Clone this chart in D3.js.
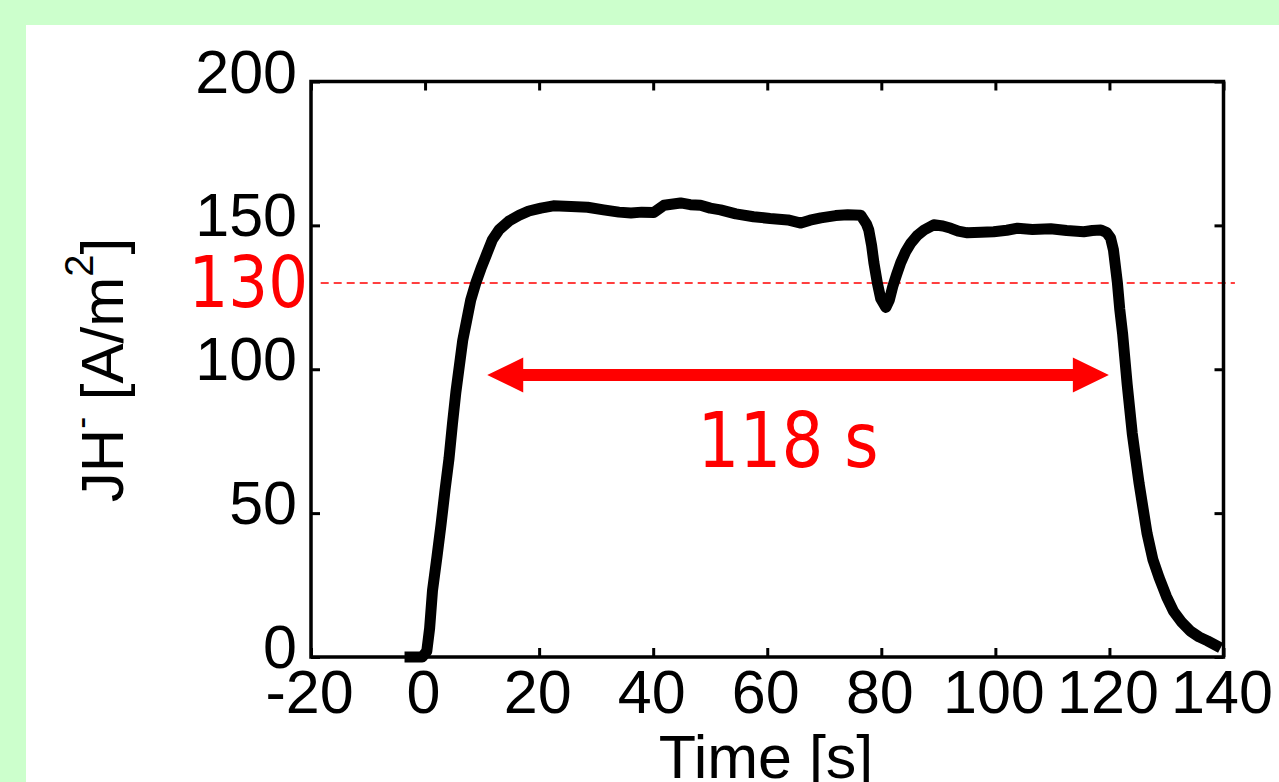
<!DOCTYPE html>
<html>
<head>
<meta charset="utf-8">
<script src="https://cdn.jsdelivr.net/npm/d3@7"></script>
<style>
  html, body { margin: 0; padding: 0; background: #ccffcc; overflow: hidden; }
  svg { display: block; }
</style>
</head>
<body>
<svg id="chart" width="1279" height="782"></svg>
<script>
// Measured current density JH- over time
const timeSeconds = [
  -3.6, -0.5, 0.3, 0.8, 1.3, 2.1, 2.8, 3.5, 4.2, 4.8, 5.4, 6.0, 6.6, 7.3, 8.0, 8.9, 9.8,
  10.8, 11.8, 13.0, 14.7, 16.5, 18.2, 20.3, 22.5, 25.6, 28.5, 31.3, 34.0, 36.1, 38.0,
  40.1, 41.9, 44.8, 46.5, 48.3, 50.0, 51.8, 54.5, 57.6, 60.5, 63.6, 65.9, 67.5, 69.4,
  72.0, 74.1, 76.4, 77.4, 77.8, 78.3, 78.7, 79.3, 79.9, 80.8, 81.4, 82.0, 82.7, 83.4,
  84.3, 85.2, 86.3, 87.5, 89.2, 90.8, 92.2, 93.5, 95.1, 97.5, 99.7, 102.0, 103.9, 106.5,
  109.7, 112.5, 115.5, 117.0, 118.5, 119.5, 120.2, 120.7, 121.4, 121.8, 122.3, 123.1,
  124.0, 125.2, 126.6, 127.6, 128.7, 130.0, 131.2, 132.7, 134.2, 135.7, 137.2, 139.5
];
const currentDensity = [
  0, 0, 2, 10, 23, 35, 46, 58, 69, 81, 92, 101, 110, 117, 124, 130, 135,
  140, 145, 148.5, 151.5, 153.5, 155, 156, 156.8, 156.6, 156.3, 155.4, 154.6, 154.3, 154.6,
  154.5, 157, 157.8, 157.2, 157, 156, 155.4, 154, 153, 152.4, 151.9, 150.8, 151.8, 152.6,
  153.4, 153.7, 153.5, 150.5, 148.4, 143, 137, 130, 124.5, 121.5, 124, 128.7, 133, 137,
  141, 143.9, 146.5, 148.4, 150.2, 149.8, 149, 148, 147.4, 147.6, 147.8, 148.3, 149, 148.6,
  148.8, 148.2, 147.8, 148.2, 148.4, 147.5, 145.6, 141.5, 130, 121, 112.5, 95,
  77.7, 60.3, 42.9, 34, 27.6, 21, 16, 12, 9, 7, 5.6, 3.2
];

const xTicks = [-20, 0, 20, 40, 60, 80, 100, 120, 140];
const yTicks = [0, 50, 100, 150, 200];
const xTitle = "Time [s]";

// Threshold line and the duration arrow drawn above the curve
const thresholdValue = 130;
const spanStart = 10.9;
const spanEnd = 119.9;
const spanLevel = 98;
const spanLabel = "118 s";

const svg = d3.select("#chart");
const W = 1279, H = 782;

svg.append("rect").attr("width", W).attr("height", H).attr("fill", "#ccffcc");
svg.append("rect").attr("x", 26).attr("y", 25).attr("width", W - 26).attr("height", H - 25).attr("fill", "#ffffff");

const x = d3.scaleLinear().domain([-20, 140]).range([311, 1223.5]);
const y = d3.scaleLinear().domain([0, 200]).range([657, 81.5]);

const axisFont = "'Liberation Sans', Arial, sans-serif";
const redFont = "'DejaVu Sans', Verdana, sans-serif";

// Threshold dashed line
svg.append("line")
  .attr("x1", x(-18.3)).attr("x2", x(142))
  .attr("y1", y(thresholdValue)).attr("y2", y(thresholdValue))
  .attr("stroke", "#ff0000").attr("stroke-width", 1.6)
  .attr("stroke-dasharray", "8,5");

// Data curve
const line = d3.line().x((d, i) => x(timeSeconds[i])).y(d => y(d));
svg.append("path")
  .datum(currentDensity)
  .attr("d", line)
  .attr("fill", "none")
  .attr("stroke", "#000")
  .attr("stroke-width", 11)
  .attr("stroke-linejoin", "round")
  .attr("stroke-linecap", "butt");

// Axes with inward ticks on all four sides
function styleAxis(g) {
  g.select(".domain").remove();
  g.selectAll(".tick line").attr("stroke", "#000").attr("stroke-width", 3);
  g.attr("font-family", axisFont).attr("font-size", 61);
  g.selectAll(".tick text").attr("fill", "#000");
}
const gx = svg.append("g").attr("transform", `translate(0,${y(0)})`)
  .call(d3.axisBottom(x).tickValues(xTicks).tickSizeInner(-9).tickSizeOuter(0).tickPadding(13).tickFormat(d => String(d)))
  .call(styleAxis);
gx.selectAll(".tick text").attr("dx", "-2");

svg.append("g").attr("transform", `translate(0,${y(200)})`)
  .call(d3.axisTop(x).tickValues(xTicks).tickSizeInner(-9).tickSizeOuter(0).tickFormat(""))
  .call(styleAxis);

const gy = svg.append("g").attr("transform", `translate(${x(-20)},0)`)
  .call(d3.axisLeft(y).tickValues(yTicks).tickSizeInner(-9).tickSizeOuter(0).tickPadding(14).tickFormat(d => String(d)))
  .call(styleAxis);
gy.selectAll(".tick text").attr("dy", "10.5");

svg.append("g").attr("transform", `translate(${x(140)},0)`)
  .call(d3.axisRight(y).tickValues(yTicks).tickSizeInner(-9).tickSizeOuter(0).tickFormat(""))
  .call(styleAxis);

// Plot frame
svg.append("rect")
  .attr("x", x(-20)).attr("y", y(200))
  .attr("width", x(140) - x(-20)).attr("height", y(0) - y(200))
  .attr("fill", "none").attr("stroke", "#000").attr("stroke-width", 3.5);

// Axis titles
svg.append("text")
  .attr("x", 766).attr("y", 778)
  .attr("text-anchor", "middle")
  .attr("font-family", axisFont).attr("font-size", 61)
  .attr("fill", "#000")
  .text(xTitle);

const yTitle = svg.append("text")
  .attr("transform", "translate(123,370) rotate(-90)")
  .attr("text-anchor", "middle")
  .attr("font-family", axisFont).attr("font-size", 60)
  .attr("fill", "#000");
yTitle.append("tspan").text("JH");
yTitle.append("tspan").attr("font-size", 36).attr("dy", -30).text("-");
yTitle.append("tspan").attr("dy", 30).text(" [A/m");
yTitle.append("tspan").attr("font-size", 40).attr("dy", -30).text("2");
yTitle.append("tspan").attr("dy", 30).text("]");

// Threshold label
svg.append("text")
  .attr("transform", `translate(308,${y(thresholdValue) + 24}) scale(0.87,1)`)
  .attr("text-anchor", "end")
  .attr("font-family", redFont).attr("font-size", 72)
  .attr("fill", "#ff0000")
  .text(String(thresholdValue));

// Double-headed duration arrow
const ax0 = x(spanStart), ax1 = x(spanEnd), ay = y(spanLevel);
const shaft = 6, headLen = 36, headHalf = 17.5;
const arrowPath = [
  [ax0, ay],
  [ax0 + headLen, ay - headHalf],
  [ax0 + headLen, ay - shaft],
  [ax1 - headLen, ay - shaft],
  [ax1 - headLen, ay - headHalf],
  [ax1, ay],
  [ax1 - headLen, ay + headHalf],
  [ax1 - headLen, ay + shaft],
  [ax0 + headLen, ay + shaft],
  [ax0 + headLen, ay + headHalf]
];
svg.append("path")
  .attr("d", d3.line()(arrowPath) + "Z")
  .attr("fill", "#ff0000");

svg.append("text")
  .attr("transform", `translate(${(ax0 + ax1) / 2 - 10},467) scale(0.855,1)`)
  .attr("text-anchor", "middle")
  .attr("font-family", redFont).attr("font-size", 77)
  .attr("fill", "#ff0000")
  .text(spanLabel);
</script>
</body>
</html>
